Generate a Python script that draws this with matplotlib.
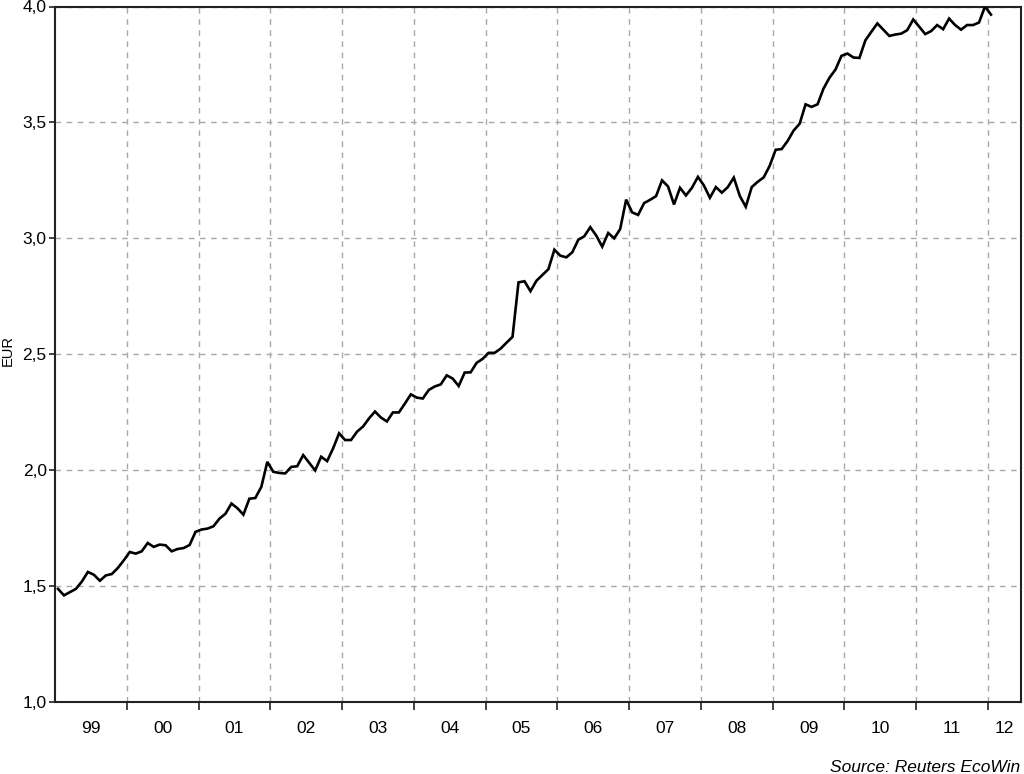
import numpy as np
import matplotlib
matplotlib.use("Agg")
import matplotlib.pyplot as plt
from matplotlib.ticker import FixedLocator, FuncFormatter

plt.rcParams['font.family'] = ['Liberation Sans', 'DejaVu Sans']

start_year = 1999
values = [
    # 1999
    1.488, 1.460, 1.474, 1.488, 1.520, 1.561, 1.549, 1.523, 1.546, 1.552, 1.578, 1.611,
    # 2000
    1.647, 1.640, 1.650, 1.686, 1.669, 1.679, 1.676, 1.650, 1.660, 1.664, 1.677, 1.734,
    # 2001
    1.744, 1.748, 1.758, 1.791, 1.812, 1.856, 1.836, 1.808, 1.877, 1.880, 1.928, 2.036,
    # 2002
    1.993, 1.988, 1.986, 2.014, 2.017, 2.065, 2.032, 1.999, 2.058, 2.039, 2.094, 2.159,
    # 2003
    2.130, 2.130, 2.166, 2.188, 2.223, 2.253, 2.227, 2.210, 2.249, 2.249, 2.287, 2.327,
    # 2004
    2.313, 2.309, 2.346, 2.361, 2.370, 2.409, 2.395, 2.363, 2.421, 2.422, 2.463, 2.480,
    # 2005
    2.506, 2.506, 2.524, 2.550, 2.575, 2.810, 2.815, 2.772, 2.817, 2.842, 2.867, 2.951,
    # 2006
    2.925, 2.918, 2.940, 2.994, 3.009, 3.048, 3.012, 2.964, 3.023, 3.000, 3.040, 3.167,
    # 2007
    3.112, 3.101, 3.152, 3.166, 3.182, 3.250, 3.224, 3.146, 3.218, 3.185, 3.218, 3.265,
    # 2008
    3.228, 3.175, 3.221, 3.197, 3.221, 3.262, 3.183, 3.136, 3.221, 3.244, 3.263, 3.313,
    # 2009
    3.382, 3.385, 3.420, 3.465, 3.494, 3.578, 3.567, 3.578, 3.646, 3.693, 3.728, 3.787,
    # 2010
    3.797, 3.780, 3.778, 3.854, 3.891, 3.927, 3.900, 3.873, 3.879, 3.883, 3.898, 3.944,
    # 2011
    3.913, 3.881, 3.894, 3.920, 3.902, 3.948, 3.920, 3.900, 3.920, 3.920, 3.931, 4.000,
    # 2012
    3.965,
]
year_labels = ['99', '00', '01', '02', '03', '04', '05', '06', '07', '08', '09', '10', '11', '12']
y_ticks = [1.0, 1.5, 2.0, 2.5, 3.0, 3.5, 4.0]

x = start_year + (np.arange(len(values)) + 0.5) / 12.0
xmin, xmax = 1999.0, 2012.46

fig = plt.figure(figsize=(10.24, 7.74), dpi=100)
ax = fig.add_axes([55 / 1024, 1 - 702 / 774, (1021 - 55) / 1024, (702 - 6.5) / 774])

ax.plot(x, values, color='black', lw=1.9, solid_joinstyle='miter', zorder=3)

ax.set_xlim(xmin, xmax)
ax.set_ylim(1.0, 4.0)

# year boundaries as major ticks, labels centred in minor ticks
boundaries = list(range(2000, 2013))
ax.xaxis.set_major_locator(FixedLocator(boundaries))
ax.xaxis.set_major_formatter(FuncFormatter(lambda v, p: ''))
centres = [y + 0.5 for y in range(1999, 2012)] + [(2012 + xmax) / 2]
ax.set_xticks(centres, minor=True)
ax.set_xticklabels(year_labels, minor=True)
ax.tick_params(axis='x', which='major', direction='out', length=6, width=1.2, color='#222222')
ax.tick_params(axis='x', which='minor', length=0, pad=14, labelsize=12.5)

ax.yaxis.set_major_locator(FixedLocator(y_ticks))
ax.yaxis.set_major_formatter(FuncFormatter(lambda v, p: f"{v:.1f}".replace('.', ',')))
ax.tick_params(axis='y', direction='out', length=4, width=1.2, pad=2, labelsize=12.5, color='#222222')

ax.grid(True, which='major', axis='both', color='#a8a8a8', linestyle=(0, (4, 4)), lw=1.0, zorder=1)

for s in ax.spines.values():
    s.set_color('#222222')
    s.set_linewidth(1.5)

fig.text(8 / 1024, 1 - 350 / 774, 'EUR', rotation=90, ha='center', va='center', fontsize=10.5)
fig.text(1020 / 1024, 1 - 767 / 774, 'Source: Reuters EcoWin', ha='right', va='center',
         fontsize=12.5, style='italic')

fig.savefig('out.png', dpi=100)
